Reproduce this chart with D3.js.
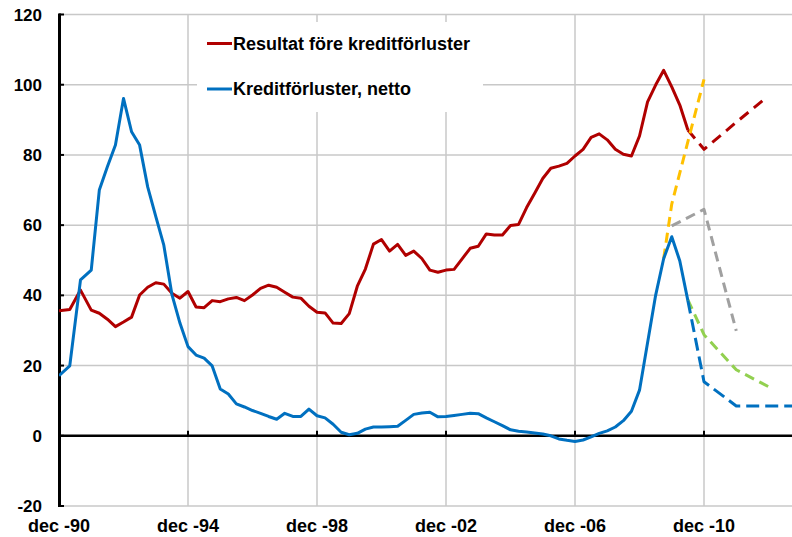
<!DOCTYPE html>
<html>
<head>
<meta charset="utf-8">
<script src="https://cdn.jsdelivr.net/npm/d3@7"></script>
<style>
  body { margin: 0; background: #fff; }
  text { font-family: Arial, "Liberation Sans", sans-serif; font-weight: bold; fill: #000; }
</style>
</head>
<body>
<div id="chart"></div>
<script>
let width = 792, height = 537;

// months after dec 1990: tertial reports first, quarterly from dec-91
let months = [0, 4, 8];
for (let m = 12; m <= 234; m += 3) months.push(m);

let resultat = [35.6, 36.0, 41.5, 35.8, 34.9, 33.2, 31.1, 32.4, 33.8, 40.1, 42.3, 43.6, 43.2, 40.6, 39.2,
  41.1, 36.7, 36.5, 38.5, 38.2, 39.0, 39.4, 38.5, 40.1, 42.0, 42.9, 42.3, 40.9, 39.5, 39.2, 36.9,
  35.2, 35.0, 32.1, 32.0, 34.8, 42.6, 47.5, 54.6, 55.9, 52.6, 54.5, 51.4, 52.6, 50.5, 47.2, 46.6,
  47.2, 47.4, 50.4, 53.4, 54.0, 57.5, 57.2, 57.2, 59.9, 60.2, 65.0, 69.1, 73.3, 76.2, 76.8, 77.6,
  79.7, 81.6, 85.0, 86.0, 84.3, 81.6, 80.2, 79.7, 85.4, 95.1, 99.9, 104.1, 99.4, 94.2, 87.1];

let kreditforluster = [17.1, 19.9, 44.4, 47.2, 70.0, 76.6, 82.8, 96.1, 86.6, 82.8, 70.9, 62.5, 54.3, 40.3, 32.1,
  25.4, 23.0, 22.1, 19.9, 13.3, 11.9, 9.1, 8.2, 7.2, 6.4, 5.5, 4.7, 6.4, 5.5, 5.5, 7.6,
  5.7, 5.1, 3.3, 1.0, 0.3, 0.7, 1.9, 2.5, 2.5, 2.6, 2.7, 4.4, 6.1, 6.5, 6.7, 5.4,
  5.5, 5.8, 6.1, 6.4, 6.3, 5.1, 4.0, 2.9, 1.7, 1.3, 1.1, 0.8, 0.5, 0.0, -0.9, -1.3,
  -1.6, -1.2, -0.3, 0.7, 1.4, 2.5, 4.3, 7.0, 13.0, 26.5, 40.0, 50.5, 56.7, 49.8, 38.5];

// dashed projections
let resultatProgMonths = [234, 240, 252, 262];
let resultatProg = [87.1, 81.6, 89.3, 95.6];
let kreditProgMonths = [234, 240, 252, 264, 276];
let kreditProg = [38.5, 15.4, 8.5, 8.5, 8.5];
let gulMonths = [225, 228, 240];
let gul = [50.5, 66.0, 101.5];
let graMonths = [228, 240, 252];
let gra = [59.8, 64.5, 29.9];
let gronMonths = [234, 240, 252, 264];
let gron = [38.7, 28.8, 18.8, 14.0];

let yTicks = [-20, 0, 20, 40, 60, 80, 100, 120];
let xTickMonths = [0, 48, 96, 144, 192, 240];
let xTickLabels = ["dec -90", "dec -94", "dec -98", "dec -02", "dec -06", "dec -10"];

let plotLeft = 59, plotTop = 14.5, plotBottom = 506;
let x = d3.scaleLinear().domain([0, 276]).range([plotLeft, plotLeft + 276 * 129 / 48]);
let y = d3.scaleLinear().domain([-20, 120]).range([plotBottom, plotTop]);

let svg = d3.select("#chart").append("svg")
  .attr("width", width).attr("height", height);

svg.append("clipPath").attr("id", "plot")
  .append("rect").attr("x", plotLeft).attr("y", 0).attr("width", width - plotLeft).attr("height", plotBottom + 2);

// grid
let grid = svg.append("g").attr("stroke", "#c8c8c8").attr("stroke-width", 1.5);
grid.selectAll("line.h").data(yTicks.filter(d => d !== 0)).enter().append("line")
  .attr("x1", plotLeft).attr("x2", width)
  .attr("y1", d => y(d)).attr("y2", d => y(d));
grid.selectAll("line.v").data(xTickMonths.slice(1)).enter().append("line")
  .attr("x1", d => x(d)).attr("x2", d => x(d))
  .attr("y1", plotTop).attr("y2", plotBottom);

// legend background hides the grid
svg.append("rect").attr("x", 197).attr("y", 22).attr("width", 286).attr("height", 90).attr("fill", "#fff");

// zero line
svg.append("line").attr("x1", plotLeft).attr("x2", width)
  .attr("y1", y(0)).attr("y2", y(0)).attr("stroke", "#000").attr("stroke-width", 2.5);
svg.selectAll("line.xt").data(xTickMonths).enter().append("line")
  .attr("x1", d => x(d)).attr("x2", d => x(d))
  .attr("y1", y(0) - 5).attr("y2", y(0))
  .attr("stroke", "#000").attr("stroke-width", 2);

// y axis
svg.append("line").attr("x1", plotLeft + 0.5).attr("x2", plotLeft + 0.5)
  .attr("y1", plotTop - 1).attr("y2", plotBottom + 1).attr("stroke", "#000").attr("stroke-width", 3);
svg.selectAll("line.yt").data(yTicks).enter().append("line")
  .attr("x1", plotLeft).attr("x2", plotLeft + 5)
  .attr("y1", d => y(d)).attr("y2", d => y(d))
  .attr("stroke", "#000").attr("stroke-width", 2);

svg.selectAll("text.yl").data(yTicks).enter().append("text")
  .attr("x", 42).attr("y", d => y(d)).attr("dy", "0.36em")
  .attr("text-anchor", "end").style("font-size", "17px")
  .text(d => d);

svg.selectAll("text.xl").data(xTickMonths).enter().append("text")
  .attr("x", d => x(d)).attr("y", 532)
  .attr("text-anchor", "middle").style("font-size", "18px")
  .text((d, i) => xTickLabels[i]);

// lines
let line = d3.line().x(d => x(d[0])).y(d => y(d[1]));
let plot = svg.append("g").attr("clip-path", "url(#plot)").attr("fill", "none")
  .attr("stroke-width", 3).attr("stroke-linejoin", "round");

function addLine(ms, vals, color, dash) {
  let p = plot.append("path")
    .datum(ms.map((m, i) => [m, vals[i]]))
    .attr("d", line)
    .attr("stroke", color);
  if (dash) p.attr("stroke-dasharray", dash);
}

addLine(graMonths, gra, "#a0a0a0", "10,6");
addLine(gronMonths, gron, "#92d050", "10,6");
addLine(kreditProgMonths, kreditProg, "#0070c0", "13,6");
addLine(resultatProgMonths, resultatProg, "#b00000", "11,7");
addLine(gulMonths, gul, "#ffc000", "10,6");
addLine(months, resultat, "#b00000", null);
addLine(months, kreditforluster, "#0070c0", null);

// legend
let legend = [
  { name: "Resultat före kreditförluster", color: "#b00000", y: 43.5 },
  { name: "Kreditförluster, netto", color: "#0070c0", y: 89 }
];
let lg = svg.selectAll("g.legend").data(legend).enter().append("g");
lg.append("line").attr("x1", 207).attr("x2", 232)
  .attr("y1", d => d.y).attr("y2", d => d.y)
  .attr("stroke", d => d.color).attr("stroke-width", 3);
lg.append("text").attr("x", 233).attr("y", d => d.y).attr("dy", "0.36em")
  .style("font-size", "18px").text(d => d.name);
</script>
</body>
</html>
